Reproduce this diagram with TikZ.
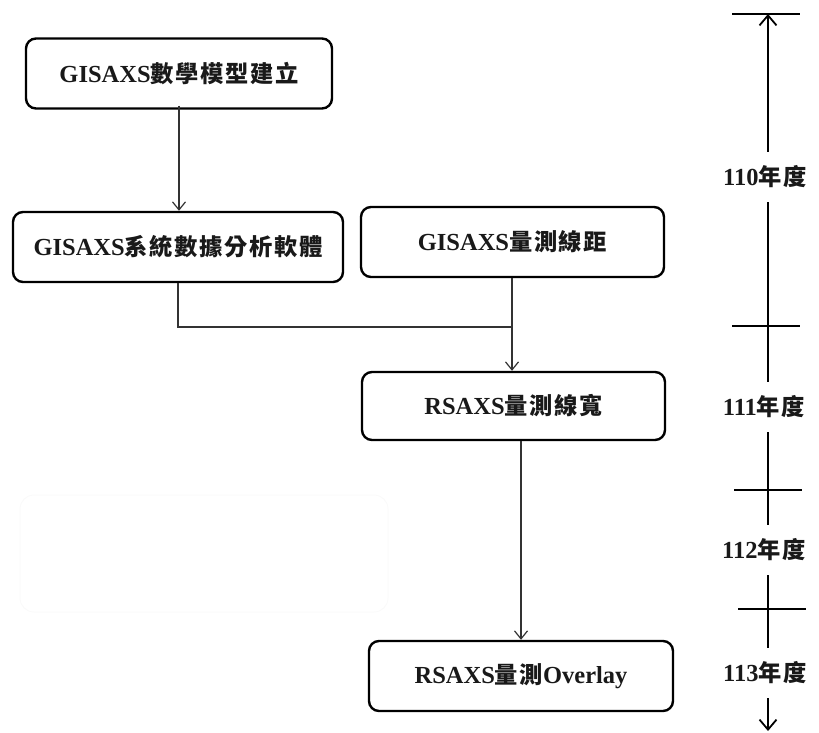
\documentclass[tikz,border=0pt]{standalone}
\usepackage{fontspec}
\setmainfont{Liberation Serif}
\newfontfamily\cjk{Noto Sans CJK TC}[Scale=0.95, LetterSpace=7]
\usetikzlibrary{arrows.meta}
\newcommand{\zh}[1]{{\cjk #1}}

\begin{document}
\begin{tikzpicture}[x=1pt, y=-1pt,
  every node/.style={font=\fontsize{24.5}{29}\selectfont\bfseries, text=black!90},
  stage/.style={draw, line width=2.4pt, rounded corners=10pt, minimum height=70pt, inner sep=0pt},
  flow/.style={line width=1.2pt, draw=black!80, -{Straight Barb[length=8pt, width=13pt, line width=1.2pt]}},
  link/.style={line width=1.2pt, draw=black!80},
  spine/.style={line width=1.8pt},
  spineup/.style={spine, {Straight Barb[length=10pt, width=17pt, line width=1.8pt]}-},
  spinedown/.style={spine, -{Straight Barb[length=10pt, width=17pt, line width=1.8pt]}},
  yearlbl/.style={minimum height=50pt, inner sep=0pt},
]
\useasboundingbox (0,0) rectangle (819,733);

% work packages
\node[stage, minimum width=306pt] (b1) at (179,73.5) {GISAXS\zh{數學模型建立}};
\node[stage, minimum width=330pt] (b2) at (178,247) {GISAXS\zh{系統數據分析軟體}};
\node[stage, minimum width=303pt] (b3) at (512.5,242) {GISAXS\zh{量測線距}};
\node[stage, minimum width=303pt, minimum height=68pt] (b4) at (513.5,406) {RSAXS\zh{量測線寬}};
\node[stage, minimum width=304pt] (b5) at (521,676) {RSAXS\zh{量測}Overlay};
\node[draw=black!2, line width=1pt, rounded corners=14pt, minimum width=368pt, minimum height=117pt] (ghost) at (204,553.5) {};

% flow between packages
\coordinate (join) at (512,327);
\draw[flow] ([yshift=4pt]b1.south) -- (b1.south |- b2.north);
\draw[link] (b2.south) |- (join);
\draw[flow] (join |- b3.south) -- (join |- b4.north);
\draw[flow] (b5.north |- b4.south) -- (b5.north);

% year timeline
\coordinate (top) at (768,14);
\coordinate (bot) at (768,731);
\coordinate (tk1) at (766,326);
\coordinate (tk2) at (768,490);
\coordinate (tk3) at (772,609);
\node[yearlbl] (y110) at (765,177) {110\zh{年度}};
\node[yearlbl] (y111) at (764,407) {111\zh{年度}};
\node[yearlbl] (y112) at (764,550) {112\zh{年度}};
\node[yearlbl] (y113) at (765,673) {113\zh{年度}};

\draw[spine] ([xshift=-36pt]top) -- ([xshift=32pt]top);
\draw[spine] ([xshift=-34pt]tk1) -- ([xshift=34pt]tk1);
\draw[spine] ([xshift=-34pt]tk2) -- ([xshift=34pt]tk2);
\draw[spine] ([xshift=-34pt]tk3) -- ([xshift=34pt]tk3);

\draw[spineup] (top) -- (top |- y110.north);
\draw[spine] (top |- y110.south) -- (top |- y111.north);
\draw[spine] (top |- y111.south) -- (top |- y112.north);
\draw[spine] (top |- y112.south) -- (top |- y113.north);
\draw[spinedown] (top |- y113.south) -- (bot);
\end{tikzpicture}
\end{document}
